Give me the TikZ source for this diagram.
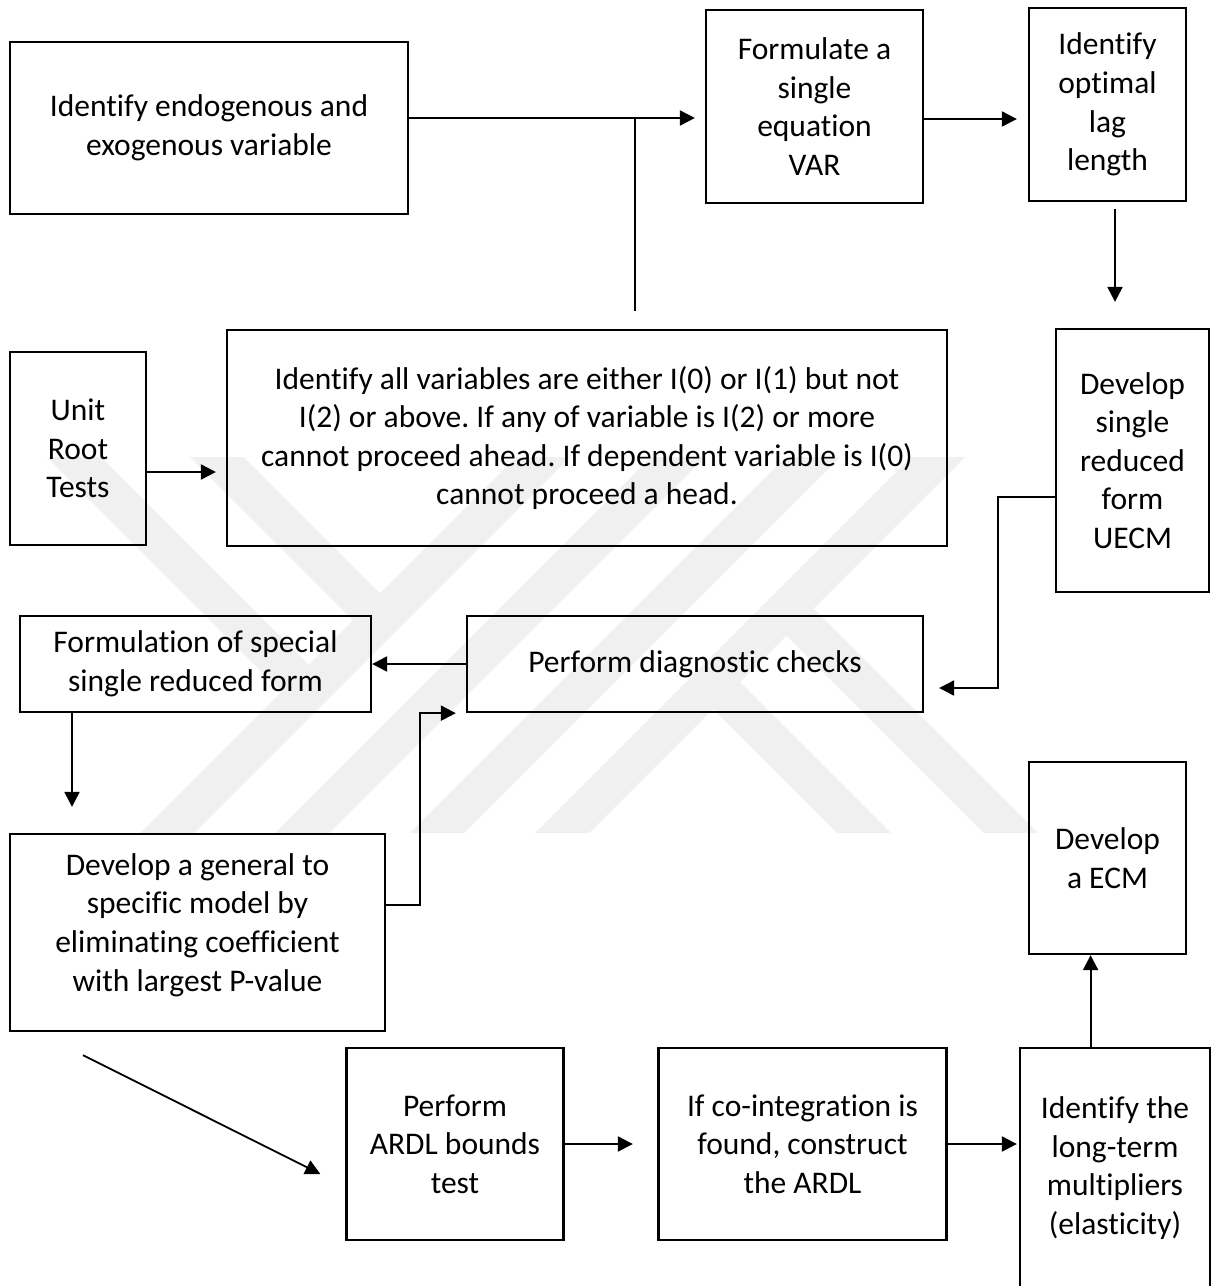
\documentclass[tikz,border=0pt]{standalone}
\usepackage{fontspec}
\setmainfont{Carlito}[Ligatures={NoCommon}]
\usetikzlibrary{arrows.meta}
\frenchspacing
\begin{document}
\begin{tikzpicture}[x=1pt,y=-1pt,
  flowbox/.style={draw=black, line width=2.3pt, inner sep=0pt, align=center,
    font=\frenchspacing\fontsize{31.5}{38.6}\selectfont},
  txt/.style={inner sep=0pt, align=center, font=\frenchspacing\fontsize{31.5}{38.6}\selectfont},
  arr/.style={line width=2.2pt, -{Triangle[length=15pt,width=15pt]}},
  thinline/.style={line width=1.3pt},
  wm/.style={fill=black!6, draw=none}]
\useasboundingbox (0,0) rectangle (1212,1286);
\fill[white] (0,0) rectangle (1212,1286);
\clip (0,0) rectangle (1212,1286);

% watermark
\fill[wm] (516,457) -- (570,457) -- (194,833) -- (140,833) -- cycle;
\fill[wm] (651,457) -- (705,457) -- (329,833) -- (275,833) -- cycle;
\fill[wm] (786,457) -- (840,457) -- (464,833) -- (410,833) -- cycle;
\fill[wm] (911,457) -- (965,457) -- (589,833) -- (535,833) -- cycle;
\fill[wm] (47,457) -- (101,457) -- (322,678) -- (295,705) -- cycle;
\fill[wm] (190,457) -- (244,457) -- (393.5,606.5) -- (366.5,633.5) -- cycle;
\fill[wm] (699.5,695.5) -- (726.5,668.5) -- (891,833) -- (837,833) -- cycle;
\fill[wm] (773,622) -- (800,595) -- (1038,833) -- (984,833) -- cycle;

% boxes
\node[flowbox, minimum width=398pt, minimum height=172pt] (A) at (209,128)
  {Identify endogenous and\\exogenous variable};
\node[flowbox, minimum width=217pt, minimum height=193pt] (B) at (814.5,106.5)
  {Formulate a\\single\\equation\\VAR};
\node[flowbox, minimum width=157pt, minimum height=193pt] (C) at (1107.5,104.5)
  {Identify\\optimal\\lag\\length};
\node[flowbox, minimum width=136pt, minimum height=193pt] (F) at (78,448.5)
  {Unit\\Root\\Tests};
\node[flowbox, minimum width=720pt, minimum height=216pt] (E) at (587,438)
  {Identify all variables are either I(0) or I(1) but not\\
   I(2) or above. If any of variable is I(2) or more\\
   cannot proceed ahead. If dependent variable is I(0)\\
   cannot proceed a head.};
\node[flowbox, minimum width=153pt, minimum height=263pt] (D) at (1132.5,460.5)
  {Develop\\single\\reduced\\form\\UECM};
\node[flowbox, minimum width=456pt, minimum height=96pt] (G) at (695,664)
  {Perform diagnostic checks};
\node[flowbox, minimum width=351pt, minimum height=96pt] (H) at (195.5,664)
  {Formulation of special\\single reduced form};
\node[flowbox, minimum width=375pt, minimum height=197pt] (I) at (197.5,932.5) {};
\node[txt] (It) at (197.5,925)
  {Develop a general to\\specific model by\\eliminating coefficient\\with largest P-value};
\node[flowbox, minimum width=217pt, minimum height=192pt] (J) at (455,1144)
  {Perform\\ARDL bounds\\test};
\node[flowbox, minimum width=288pt, minimum height=192pt] (K) at (802.5,1144)
  {If co-integration is\\found, construct\\the ARDL};
\node[flowbox, minimum width=190pt, minimum height=262pt] (L) at (1115,1179) {};
\node[txt] (Lt) at (1115,1168)
  {Identify the\\long-term\\multipliers\\(elasticity)};
\node[flowbox, minimum width=157pt, minimum height=192pt] (M) at (1107.5,858)
  {Develop\\a ECM};

% connectors
\draw[arr, shorten >=10pt] ([yshift=10pt]A.east) -- ([yshift=10pt]A.east -| B.west);
\coordinate (j1) at (635,118);
\coordinate (j2) at (635,311);
\draw[thinline] (j1) -- (j2);
\draw[arr, shorten >=11pt] ([yshift=-12.5pt]B.east) -- ([yshift=-12.5pt]B.east -| C.west);
\draw[arr, shorten <=7pt, shorten >=26pt] ([xshift=7.5pt]C.south) -- ([xshift=7.5pt]C.south |- D.north);
\draw[arr, shorten >=10pt] ([yshift=-23.5pt]F.east) -- ([yshift=-23.5pt]F.east -| E.west);
\draw[arr, shorten >=15pt] ([yshift=-36.5pt]D.west) -| ([xshift=74pt,yshift=-24pt]G.east) -- ([yshift=-24pt]G.east);
\draw[arr] (G.west) -- (H.east);
\draw[arr, shorten >=26pt] ([xshift=-123.5pt]H.south) -- ([xshift=-123.5pt]H.south |- I.north);
\draw[arr, shorten >=10pt] ([yshift=27.5pt]I.east) -| ([xshift=-46pt]G.south west) -- (G.south west);
\draw[line width=1.8pt, -{Triangle[length=15pt,width=15pt]}] ([xshift=-114.5pt,yshift=-23pt]I.south) -- ([xshift=-25pt,yshift=-30pt]J.west);
\draw[arr, shorten >=24.5pt] (J.east) -- (K.west);
\draw[arr, shorten >=2pt] (K.east) -- (K.east -| L.west);
\draw[arr] ([xshift=-24.4pt]L.north) -- ([xshift=-24.4pt]L.north |- M.south);
\end{tikzpicture}
\end{document}
